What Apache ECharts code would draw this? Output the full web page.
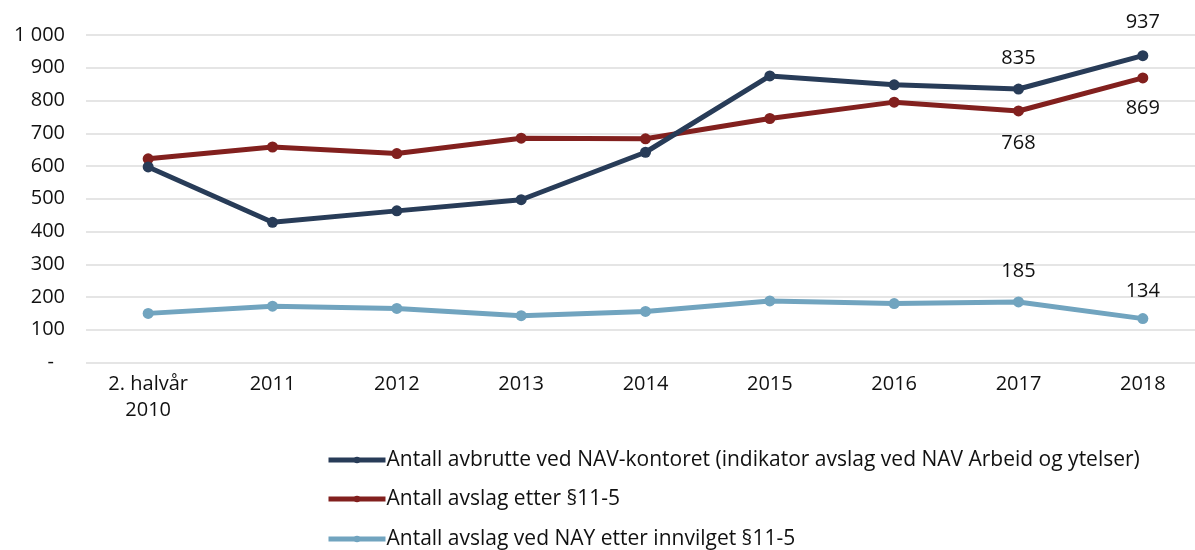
<!DOCTYPE html>
<html>
<head>
<meta charset="utf-8">
<script src="https://cdn.jsdelivr.net/npm/echarts@6/dist/echarts.min.js"></script>
<style>
html,body{margin:0;padding:0;background:#fff;overflow:hidden;}
#chart{width:1205px;height:550px;}
</style>
</head>
<body>
<div id="chart"></div>
<script>
const categories = ['2. halvår\n2010', '2011', '2012', '2013', '2014', '2015', '2016', '2017', '2018'];
const seriesNames = [
  'Antall avbrutte ved NAV-kontoret (indikator avslag ved NAV Arbeid og ytelser)',
  'Antall avslag etter §11-5',
  'Antall avslag ved NAY etter innvilget §11-5'
];
const avbrutte = [597, 428, 463, 497, 642, 875, 848, 835, 937];
const avslag = [622, 658, 638, 685, 683, 745, 795, 768, 869];
const nayAvslag = [150, 172, 165, 143, 156, 188, 180, 185, 134];
const labeledIndices = [7, 8];
const yTicks = { min: 0, max: 1000, interval: 100 };

// styling only: label placement per series (for the labelled points)
const colors = ['#283c58', '#82201e', '#71a4bf'];
const labelPos = ['top', 'bottom', 'top'];
const labelDist = [[15, 18], [17, 15], [15, 12]];
const FONT = 'Open Sans';
const FS = 20;

function buildData(values, k) {
  return values.map((v, i) => {
    const li = labeledIndices.indexOf(i);
    if (li >= 0) {
      return {
        value: v,
        label: {
          show: true,
          position: labelPos[k],
          distance: labelDist[k][li],
          fontFamily: FONT,
          fontSize: FS,
          color: '#111'
        }
      };
    }
    return v;
  });
}

const allValues = [avbrutte, avslag, nayAvslag];
const legendTops = [448, 487, 527];

const chart = echarts.init(document.getElementById('chart'), null, { renderer: 'canvas' });
chart.setOption({
  animation: false,
  backgroundColor: '#fff',
  textStyle: { fontFamily: FONT },
  grid: { left: 86, right: 0, top: 35, bottom: 187.5, containLabel: false },
  xAxis: {
    type: 'category',
    data: categories,
    boundaryGap: true,
    axisLine: { show: false },
    axisTick: { show: false },
    axisLabel: {
      fontFamily: FONT,
      fontSize: FS,
      color: '#111',
      margin: 9,
      lineHeight: 26,
      interval: 0
    }
  },
  yAxis: {
    type: 'value',
    min: yTicks.min,
    max: yTicks.max,
    interval: yTicks.interval,
    axisLine: { show: false },
    axisTick: { show: false },
    splitLine: { lineStyle: { color: '#dcdcdc', width: 1.5 } },
    axisLabel: {
      fontFamily: FONT,
      fontSize: FS,
      color: '#111',
      margin: 21,
      formatter: function (v) {
        if (v === 0) return '{d|-}';
        return String(v).replace(/\B(?=(\d{3})+(?!\d))/g, ' ');
      },
      rich: { d: { fontFamily: FONT, fontSize: FS, color: '#111', padding: [0, 11, 0, 0] } }
    }
  },
  legend: seriesNames.map((name, k) => ({
    orient: 'horizontal',
    left: 326,
    top: legendTops[k],
    padding: 0,
    itemWidth: 57,
    itemHeight: 8,
    lineStyle: { width: 5 },
    textStyle: { fontFamily: FONT, fontSize: 21, color: '#111', lineHeight: 24, padding: [0, 0, 0, -4] },
    data: [name]
  })),
  series: seriesNames.map((name, k) => ({
    name: name,
    type: 'line',
    data: buildData(allValues[k], k),
    symbol: 'circle',
    symbolSize: 11,
    showAllSymbol: true,
    lineStyle: { color: colors[k], width: 5 },
    itemStyle: { color: colors[k] },
    z: 3 - k
  }))
});
</script>
</body>
</html>
